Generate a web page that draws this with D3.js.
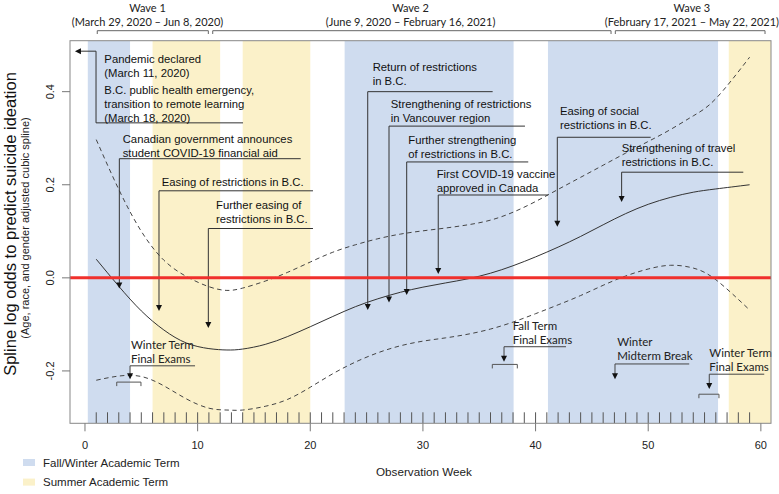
<!DOCTYPE html>
<html><head><meta charset="utf-8">
<script src="https://cdn.jsdelivr.net/npm/d3@7"></script>
<style>body{margin:0;background:#fff}svg{display:block}</style>
</head><body><svg id="c" width="779" height="494"></svg>
<script>
// ---------- data ----------
const weeks    = [1,3,5,7,9,11,12.6,14,16,18,20,22,24,26,28,30,32,34,36,38,40,42,44,46,48,50,52,54,56,59];
const estimate = [0.040,-0.018,-0.071,-0.112,-0.140,-0.152,-0.155,-0.153,-0.143,-0.126,-0.105,-0.083,-0.062,-0.045,-0.031,-0.020,-0.011,-0.002,0.010,0.026,0.045,0.066,0.089,0.114,0.138,0.158,0.173,0.184,0.191,0.200];
const upperCI  = [0.297,0.190,0.100,0.038,0.003,-0.019,-0.027,-0.022,-0.007,0.012,0.034,0.055,0.071,0.084,0.094,0.101,0.107,0.114,0.124,0.141,0.164,0.190,0.216,0.242,0.268,0.293,0.319,0.348,0.385,0.474];
const lowerCI  = [-0.220,-0.211,-0.212,-0.232,-0.260,-0.280,-0.284,-0.284,-0.276,-0.261,-0.235,-0.206,-0.181,-0.161,-0.146,-0.136,-0.129,-0.121,-0.110,-0.095,-0.077,-0.058,-0.038,-0.016,0.004,0.019,0.027,0.021,-0.004,-0.069];
const rugWeeks = [1,2,3,4,5,6,7,8,9,10,11,12,13,14,15,16,17,18,19,20,21,22,23,24,25,26,27,28,29,30,31,32,33,34,35,36,37,38,39,40,41,42,43,44,45,46,47,48,49,50,51,52,53,54,55,56,57,58,59];
const xTicks = [0,10,20,30,40,50,60];
const yTicks = [-0.2,0.0,0.2,0.4];
const fallWinterTerms = [[0.25,4.0],[23.05,38.05],[41.1,56.2]];
const summerTerms     = [[6.0,12.0],[14.0,20.0],[57.15,61]];
const waves = [
  {name:"Wave 1", dates:"(March 29, 2020 \u2013 Jun 8, 2020)", from:1.09, to:10.95, label:5.55},
  {name:"Wave 2", dates:"(June 9, 2020 \u2013 February 16, 2021)", from:11.34, to:46.7, label:28.9},
  {name:"Wave 3", dates:"(February 17, 2021 \u2013 May 22, 2021)", from:47.08, to:60.37, label:53.88}
];
const events = [
  {lines:["Canadian government announces","student COVID-19 financial aid"], tx:3.35, ty:0.298, ul:[3.05,19.15,0.256], arrow:[3.05,-0.023]},
  {lines:["Easing of restrictions in B.C."], tx:6.81, ty:0.206, ul:[6.57,20.24,0.187], arrow:[6.57,-0.071]},
  {lines:["Further easing of","restrictions in B.C."], tx:11.63, ty:0.156, ul:[10.95,20.24,0.106], arrow:[10.95,-0.108]},
  {lines:["Return of restrictions","in B.C."], tx:25.54, ty:0.454, ul:[25.1,36.19,0.400], arrow:[25.1,-0.069]},
  {lines:["Strengthening of restrictions","in Vancouver region"], tx:27.14, ty:0.373, ul:[26.99,39.06,0.326], arrow:[26.99,-0.053]},
  {lines:["Further strengthening","of restrictions in B.C."], tx:28.7, ty:0.296, ul:[28.56,39.35,0.249], arrow:[28.56,-0.037]},
  {lines:["First COVID-19 vaccine","approved in Canada"], tx:31.22, ty:0.224, ul:[31.36,41.1,0.178], arrow:[31.36,0.008]},
  {lines:["Easing of social","restrictions in B.C."], tx:42.17, ty:0.359, ul:[41.93,50.22,0.302], arrow:[41.93,0.110]},
  {lines:["Strengthening of travel","restrictions in B.C."], tx:47.64, ty:0.279, ul:[47.64,58.44,0.227], arrow:[47.64,0.163]}
];
const pandemic = {lines:["Pandemic declared","(March 11, 2020)","B.C. public health emergency,","transition to remote learning","(March 18, 2020)"],
  tx:1.72, ty:[0.471,0.440,0.404,0.374,0.344], path:[[-0.89,0.487],[0.98,0.487],[0.98,0.333],[14.03,0.333]]};
const exams = [
  {lines:["Winter Term","Final Exams"], tx:4.08, ty:-0.143, ul:[4.0,9.77,-0.189], arrow:[4.0,-0.218], bracket:[2.82,4.97,-0.224]},
  {lines:["Fall Term","Final Exams"], tx:37.97, ty:-0.103, ul:[37.2,42.7,-0.148], arrow:[37.2,-0.180], bracket:[36.16,38.38,-0.186]},
  {lines:["Winter","Midterm Break"], tx:47.25, ty:-0.137, ul:[47.05,53.64,-0.185], arrow:[47.05,-0.218], bracket:null},
  {lines:["Winter Term","Final Exams"], tx:55.42, ty:-0.162, ul:[55.42,60.3,-0.207], arrow:[55.42,-0.239], bracket:[54.5,56.28,-0.250]}
];
const legendItems = [{label:"Fall/Winter Academic Term", c:"#cfdcef"},{label:"Summer Academic Term", c:"#fbf1c9"}];

// ---------- drawing ----------
const svg = d3.select("#c");
const L=70, R=771, T=40.7, B=423.3;
const x = d3.scaleLinear().domain([-1.33,60.9]).range([L,R]);
const y = d3.scaleLinear().domain([-0.3125,0.5095]).range([B,T]);
const ARIAL = "'Liberation Sans', Arial, sans-serif";
const CAL = "Lato, 'Open Sans', sans-serif";

svg.append("defs").append("clipPath").attr("id","pc").append("rect")
  .attr("x",L).attr("y",T).attr("width",R-L).attr("height",B-T);
const plot = svg.append("g").attr("clip-path","url(#pc)");

plot.selectAll("rect.fw").data(fallWinterTerms).join("rect").attr("class","fw")
  .attr("x",d=>x(d[0])).attr("width",d=>x(d[1])-x(d[0])).attr("y",T).attr("height",B-T).attr("fill","#cfdcef");
plot.selectAll("rect.su").data(summerTerms).join("rect").attr("class","su")
  .attr("x",d=>x(d[0])).attr("width",d=>x(d[1])-x(d[0])).attr("y",T).attr("height",B-T).attr("fill","#fbf1c9");

// rug
plot.selectAll("line.rug").data(rugWeeks).join("line")
  .attr("x1",d=>x(d)).attr("x2",d=>x(d)).attr("y1",B).attr("y2",B-11)
  .attr("stroke","#555").attr("stroke-width",1);

const line = (arr)=>d3.line().x((d,i)=>x(weeks[i])).y(d=>y(d)).curve(d3.curveNatural)(arr);
plot.append("path").attr("d",line(upperCI)).attr("fill","none").attr("stroke","#444").attr("stroke-width",1).attr("stroke-dasharray","4.5,3.5");
plot.append("path").attr("d",line(lowerCI)).attr("fill","none").attr("stroke","#444").attr("stroke-width",1).attr("stroke-dasharray","4.5,3.5");
plot.append("path").attr("d",line(estimate)).attr("fill","none").attr("stroke","#333").attr("stroke-width",1);

// annotations (lines)
const ann = svg.append("g");
const arrowHeads = [];
function downArrow(wx, v){ arrowHeads.push({x:x(wx), y:y(v), dir:"down"}); }

// pandemic
ann.append("path").attr("d", d3.line().x(d=>x(d[0])).y(d=>y(d[1]))(pandemic.path.map((p,i)=> i===0 ? [p[0]+0.45,p[1]] : p)))
  .attr("fill","none").attr("stroke","#333").attr("stroke-width",1);
arrowHeads.push({x:x(pandemic.path[0][0]), y:y(pandemic.path[0][1]), dir:"left"});
pandemic.lines.forEach((t,i)=>{
  ann.append("text").attr("x",x(pandemic.tx)).attr("y",y(pandemic.ty[i])).attr("dy","0.36em")
    .attr("font-family",ARIAL).attr("font-size",11.3).attr("fill","#111").text(t);
});

events.forEach(e=>{
  ann.append("path").attr("d",`M${x(e.ul[1])},${y(e.ul[2])}H${x(e.ul[0])}V${y(e.arrow[1])-5}`)
    .attr("fill","none").attr("stroke","#333").attr("stroke-width",1);
  downArrow(e.arrow[0], e.arrow[1]);
  e.lines.forEach((t,i)=>{
    ann.append("text").attr("x",x(e.tx)).attr("y",y(e.ty)+i*14).attr("dy","0.36em")
      .attr("font-family",ARIAL).attr("font-size",11.3).attr("fill","#111").text(t);
  });
});

exams.forEach(e=>{
  ann.append("path").attr("d",`M${x(e.ul[1])},${y(e.ul[2])}H${x(e.ul[0])}V${y(e.arrow[1])-5}`)
    .attr("fill","none").attr("stroke","#444").attr("stroke-width",1);
  downArrow(e.arrow[0], e.arrow[1]);
  if(e.bracket){
    const by=y(e.bracket[2]);
    ann.append("path").attr("d",`M${x(e.bracket[0])},${by+4}V${by}H${x(e.bracket[1])}V${by+4}`)
      .attr("fill","none").attr("stroke","#555").attr("stroke-width",1);
  }
  e.lines.forEach((t,i)=>{
    ann.append("text").attr("x",x(e.tx)).attr("y",y(e.ty)+i*14).attr("dy","0.36em")
      .attr("font-family",CAL).attr("font-size",11.5).attr("fill","#222").text(t);
  });
});

// zero reference line
svg.append("line").attr("x1",L).attr("x2",R).attr("y1",y(0)).attr("y2",y(0))
  .attr("stroke","#f0302c").attr("stroke-width",3);

// arrowheads
svg.selectAll("path.ah").data(arrowHeads).join("path").attr("class","ah")
  .attr("d",d=> d.dir==="down" ? `M${d.x},${d.y}L${d.x-3},${d.y-6}L${d.x+3},${d.y-6}Z`
                               : `M${d.x},${d.y}L${d.x+6},${d.y-3}L${d.x+6},${d.y+3}Z`)
  .attr("fill","#111");

// box
svg.append("rect").attr("x",L).attr("y",T).attr("width",R-L).attr("height",B-T)
  .attr("fill","none").attr("stroke","#888").attr("stroke-width",1);

// x axis
const xa = svg.append("g");
xa.selectAll("line").data(xTicks).join("line").attr("x1",d=>x(d)).attr("x2",d=>x(d)).attr("y1",B).attr("y2",B+8).attr("stroke","#777");
xa.selectAll("text").data(xTicks).join("text").attr("x",d=>x(d)).attr("y",445).attr("dy","0.36em")
  .attr("text-anchor","middle").attr("font-family",ARIAL).attr("font-size",11).attr("fill","#222").text(d=>d);
svg.append("text").attr("x",424).attr("y",472).attr("dy","0.36em").attr("text-anchor","middle")
  .attr("font-family",ARIAL).attr("font-size",11.7).attr("fill","#222").text("Observation Week");

// y axis
const ya = svg.append("g");
ya.selectAll("line").data(yTicks).join("line").attr("x1",L-8).attr("x2",L).attr("y1",d=>y(d)).attr("y2",d=>y(d)).attr("stroke","#777");
ya.selectAll("text").data(yTicks).join("text")
  .attr("transform",d=>`translate(50,${y(d)}) rotate(-90)`).attr("dy","0.36em")
  .attr("text-anchor","middle").attr("font-family",ARIAL).attr("font-size",11).attr("fill","#222")
  .text(d=>d3.format(".1f")(d).replace("\u2212","-"));
svg.append("text").attr("transform","translate(10,224) rotate(-90)").attr("dy","0.36em").attr("text-anchor","middle")
  .attr("font-family",ARIAL).attr("font-size",16.5).attr("fill","#111").text("Spline log odds to predict suicide ideation");
svg.append("text").attr("transform","translate(25,228) rotate(-90)").attr("dy","0.36em").attr("text-anchor","middle")
  .attr("font-family",ARIAL).attr("font-size",11).attr("fill","#222").text("(Age, race, and gender adjusted cubic spline)");

// waves
const wg = svg.append("g");
waves.forEach(w=>{
  wg.append("path").attr("d",`M${x(w.from)},34V30.7H${x(w.to)}V34`).attr("fill","none").attr("stroke","#666");
  wg.append("text").attr("x",x(w.label)).attr("y",8.3).attr("dy","0.36em").attr("text-anchor","middle")
    .attr("font-family",CAL).attr("font-size",11).attr("fill","#222").text(w.name);
  wg.append("text").attr("x",x(w.label)).attr("y",21.7).attr("dy","0.36em").attr("text-anchor","middle")
    .attr("font-family",CAL).attr("font-size",11).attr("fill","#222").text(w.dates);
});

// legend
const lg = svg.append("g");
legendItems.forEach((d,i)=>{
  lg.append("rect").attr("x",23).attr("y",459+i*19.6).attr("width",12).attr("height",7).attr("fill",d.c);
  lg.append("text").attr("x",43).attr("y",462.7+i*19.6).attr("dy","0.36em").attr("font-family",ARIAL)
    .attr("font-size",11.5).attr("fill","#222").text(d.label);
});
</script></body></html>
